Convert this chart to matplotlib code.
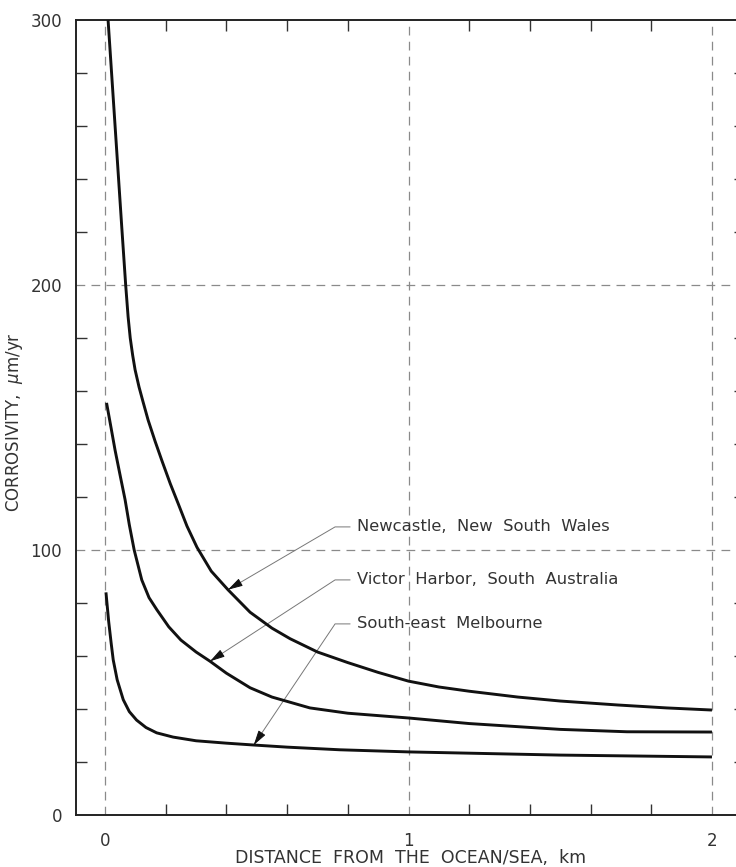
import matplotlib.pyplot as plt
import numpy as np

# values (distance in km, corrosivity in um/yr)
newcastle_x = [0.010, 0.025, 0.040, 0.055, 0.068, 0.076, 0.083, 0.091, 0.099,
               0.112, 0.125, 0.142, 0.165, 0.188, 0.215, 0.241, 0.270, 0.303,
               0.350, 0.405, 0.478, 0.55, 0.61, 0.70, 0.80, 0.90, 1.00, 1.10,
               1.20, 1.36, 1.50, 1.69, 1.85, 2.00]
newcastle_y = [300, 274, 248, 222, 200, 188, 180, 173.5, 168,
               161.5, 156, 149, 141, 133.5, 125, 117.5, 109, 101,
               92, 85, 76.5, 70.5, 66.5, 61.5, 57.5, 53.8, 50.5, 48.3,
               46.7, 44.5, 43.0, 41.5, 40.4, 39.6]

victor_x = [0.005, 0.020, 0.033, 0.050, 0.066, 0.080, 0.096, 0.121, 0.145,
            0.171, 0.21, 0.25, 0.30, 0.346, 0.40, 0.478, 0.55, 0.675, 0.80,
            1.0, 1.2, 1.5, 1.72, 2.0]
victor_y = [155.5, 146, 137.7, 128, 119, 109.5, 100, 88.7, 82,
            77.4, 71, 66, 61.5, 58, 53.5, 48, 44.5, 40.4, 38.4,
            36.6, 34.5, 32.3, 31.4, 31.3]

melbourne_x = [0.003, 0.012, 0.020, 0.027, 0.040, 0.060, 0.080, 0.104, 0.135,
               0.170, 0.224, 0.30, 0.40, 0.49, 0.60, 0.774, 1.0, 1.5, 2.0]
melbourne_y = [84, 73, 65, 58.5, 51, 43.5, 39, 35.8, 33,
               31, 29.4, 28, 27.1, 26.4, 25.6, 24.6, 23.8, 22.6, 21.9]

labels = ['Newcastle,  New  South  Wales',
          'Victor  Harbor,  South  Australia',
          'South-east  Melbourne']
label_y = [108.7, 88.7, 72.1]
arrow_x = [0.405, 0.346, 0.49]

x_major = [0, 1, 2]
y_major = [0, 100, 200, 300]


def main():
    fig = plt.figure(figsize=(7.36, 8.67), dpi=100)
    ax = fig.add_axes([0.1033, 0.0600, 0.909, 0.917])
    ax.set_xlim(-0.0956, 2.109)
    ax.set_ylim(0, 300)

    for x in x_major:
        ax.axvline(x, color='#8a8a8a', lw=0.9, ls=(0, (7, 5)), zorder=1)
    for y in [100, 200]:
        ax.axhline(y, color='#8a8a8a', lw=0.9, ls=(0, (7, 5)), zorder=1)

    series = [(newcastle_x, newcastle_y), (victor_x, victor_y),
              (melbourne_x, melbourne_y)]
    for xs, ys in series:
        ax.plot(xs, ys, color='#111111', lw=2.1, solid_capstyle='butt',
                solid_joinstyle='round', zorder=3)

    # leader lines with arrowheads
    for (xs, ys), text, ly, ax_x in zip(series, labels, label_y, arrow_x):
        tip = (ax_x, float(np.interp(ax_x, xs, ys)))
        elbow = (0.758, ly)
        ax.plot([0.807, elbow[0], tip[0]], [ly, ly, tip[1]],
                color='#777777', lw=0.7, zorder=2)
        back = (tip[0] + 0.09 * (elbow[0] - tip[0]),
                tip[1] + 0.09 * (elbow[1] - tip[1]))
        ax.annotate('', xy=tip, xytext=back,
                    arrowprops=dict(arrowstyle='-|>,head_length=0.9,head_width=0.25',
                                    color='#111111', lw=0.7,
                                    shrinkA=0, shrinkB=0), zorder=4)
        ax.text(0.830, ly, text, fontsize=11.8, color='#333333',
                va='center', ha='left')

    ax.set_xticks(x_major)
    ax.set_xticklabels([str(v) for v in x_major])
    ax.set_xticks([0.2, 0.4, 0.6, 0.8, 1.2, 1.4, 1.6, 1.8], minor=True)
    ax.set_yticks(y_major)
    ax.set_yticklabels([str(v) for v in y_major])
    ax.set_yticks([v for v in range(20, 300, 20) if v % 100], minor=True)

    ax.tick_params(which='major', length=0, labelsize=12,
                   labelcolor='#333333')
    ax.tick_params(axis='x', which='major', pad=12)
    ax.tick_params(axis='y', which='major', pad=10)
    ax.tick_params(which='minor', direction='in', length=8, width=1.0,
                   color='#333333', top=True, right=True)

    for side in ['left', 'bottom', 'top', 'right']:
        ax.spines[side].set_linewidth(1.4)
        ax.spines[side].set_color('#222222')

    fig.text(411 / 736, 1 - 858 / 867, 'DISTANCE  FROM  THE  OCEAN/SEA,  km',
             ha='center', va='center', fontsize=12.5, color='#333333')
    fig.text(15 / 736, 1 - 422 / 867, r'CORROSIVITY,  $\mu$m/yr',
             ha='center', va='center', rotation=90, fontsize=12,
             color='#333333')

    fig.savefig('out.png', dpi=100, facecolor='white')


if __name__ == '__main__':
    main()
